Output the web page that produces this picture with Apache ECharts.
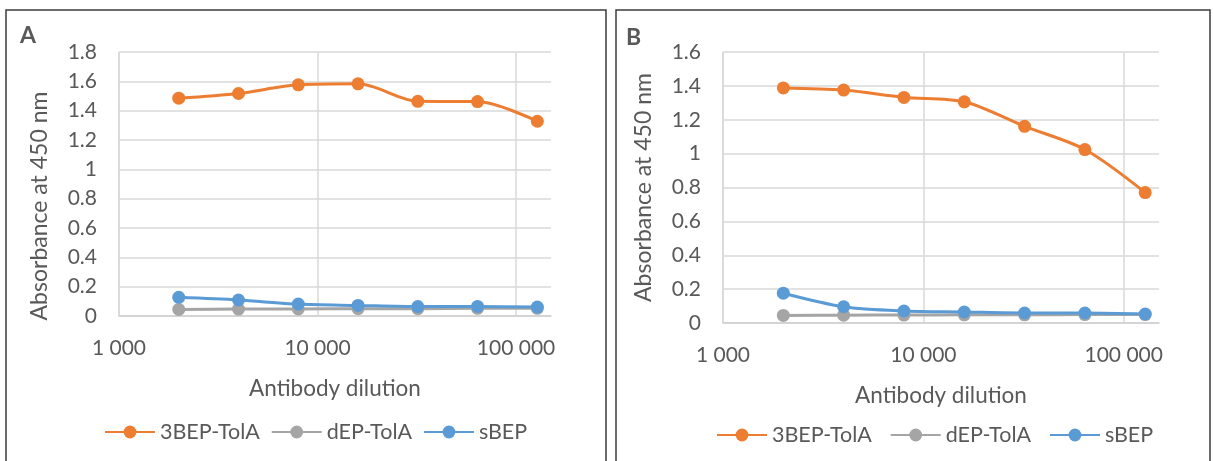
<!DOCTYPE html>
<html>
<head>
<meta charset="utf-8">
<script src="https://cdn.jsdelivr.net/npm/echarts@6/dist/echarts.min.js"></script>
<style>
html,body{margin:0;padding:0;background:#fff;}
#c{width:1213px;height:461px;}
</style>
</head>
<body>
<div id="c"></div>
<script>
// ---- data ----
var dilutions = [2000, 4000, 8000, 16000, 32000, 64000, 128000];
var seriesNames = ['3BEP-TolA', 'dEP-TolA', 'sBEP'];
// Panel A
var A_3BEP = [1.485, 1.517, 1.576, 1.583, 1.464, 1.462, 1.328];
var A_dEP  = [0.045, 0.047, 0.048, 0.050, 0.050, 0.052, 0.052];
var A_sBEP = [0.127, 0.109, 0.081, 0.072, 0.064, 0.065, 0.061];
// Panel B
var B_3BEP = [1.388, 1.375, 1.332, 1.306, 1.161, 1.024, 0.770];
var B_dEP  = [0.045, 0.046, 0.047, 0.048, 0.048, 0.050, 0.050];
var B_sBEP = [0.176, 0.096, 0.071, 0.065, 0.059, 0.059, 0.053];
// axes
var xMin = 1000, xMax = 150000;
var yMaxA = 1.8, yMaxB = 1.6, yStep = 0.2;
var xTitle = 'Antibody dilution';
var yTitle = 'Absorbance at 450 nm';
var panelLabels = ['A', 'B'];

var colors = ['#ED7D31', '#A5A5A5', '#5B9BD5'];
var FONT = 'Lato';
var TXT = '#595959';

function pairs(ys){ return dilutions.map(function(x,i){ return [x, ys[i]]; }); }
function fmt(v){ return String(Math.round(v)).replace(/\B(?=(\d{3})+(?!\d))/g, ' '); }

function xAxis(gi){
  return {
    type:'log', logBase:10, min:xMin, max:xMax, gridIndex:gi,
    name:xTitle, nameLocation:'middle', nameGap:61,
    nameTextStyle:{color:TXT, fontFamily:FONT, fontSize:22.5},
    axisLine:{show:true, onZero:false, lineStyle:{color:'#D0D0D0', width:1.5}},
    axisTick:{show:false}, minorTick:{show:false},
    axisLabel:{color:TXT, fontFamily:FONT, fontSize:21, margin:22, showMaxLabel:false, formatter:fmt},
    splitLine:{show:true, showMaxLine:false, lineStyle:{color:'#D9D9D9', width:1.5}}
  };
}
function yAxis(gi, max, namePad){
  return {
    type:'value', min:0, max:max, interval:yStep, gridIndex:gi,
    name:yTitle, nameLocation:'middle', nameGap:68,
    nameTextStyle:{color:TXT, fontFamily:FONT, fontSize:23, padding:namePad},
    axisLine:{show:false}, axisTick:{show:false},
    axisLabel:{color:TXT, fontFamily:FONT, fontSize:21, margin:22},
    splitLine:{show:true, lineStyle:{color:'#D9D9D9', width:1.5}}
  };
}
function ser(name, data, ci, gi){
  return {
    name:name, type:'line', xAxisIndex:gi, yAxisIndex:gi, data:pairs(data),
    smooth:0.3, symbol:'circle', symbolSize:13,
    lineStyle:{color:colors[ci], width:3}, itemStyle:{color:colors[ci]},
    emphasis:{disabled:true}
  };
}

var chart = echarts.init(document.getElementById('c'), null, {renderer:'canvas'});
chart.setOption({
  backgroundColor:'#fff',
  animation:false,
  grid:[
    {left:119, right:662, top:52, bottom:145},
    {left:723, right:54, top:52, bottom:138}
  ],
  xAxis:[xAxis(0), xAxis(1)],
  yAxis:[yAxis(0, yMaxA, [0,44,0,0]), yAxis(1, yMaxB, [0,0,0,0])],
  legend:[
    {data:seriesNames, left:104, top:421, padding:0, itemWidth:50, itemHeight:16, itemGap:11,
     textStyle:{color:TXT, fontFamily:FONT, fontSize:21.5}, selectedMode:false},
    {data:seriesNames, left:716, top:424, padding:0, itemWidth:50, itemHeight:16, itemGap:18,
     textStyle:{color:TXT, fontFamily:FONT, fontSize:21.5}, selectedMode:false}
  ],
  series:[
    ser(seriesNames[0], A_3BEP, 0, 0), ser(seriesNames[1], A_dEP, 1, 0), ser(seriesNames[2], A_sBEP, 2, 0),
    ser(seriesNames[0], B_3BEP, 0, 1), ser(seriesNames[1], B_dEP, 1, 1), ser(seriesNames[2], B_sBEP, 2, 1)
  ],
  graphic:[
    {type:'rect', shape:{x:6, y:10, width:600, height:470}, style:{fill:'none', stroke:'#3c3c3c', lineWidth:1.5}, silent:true},
    {type:'rect', shape:{x:616, y:10, width:594, height:470}, style:{fill:'none', stroke:'#3c3c3c', lineWidth:1.5}, silent:true},
    {type:'text', left:20, top:24, style:{text:panelLabels[0], fill:TXT, font:'bold 23px Lato'}},
    {type:'text', left:626, top:26, style:{text:panelLabels[1], fill:TXT, font:'bold 23px Lato'}}
  ]
});
</script>
</body>
</html>
